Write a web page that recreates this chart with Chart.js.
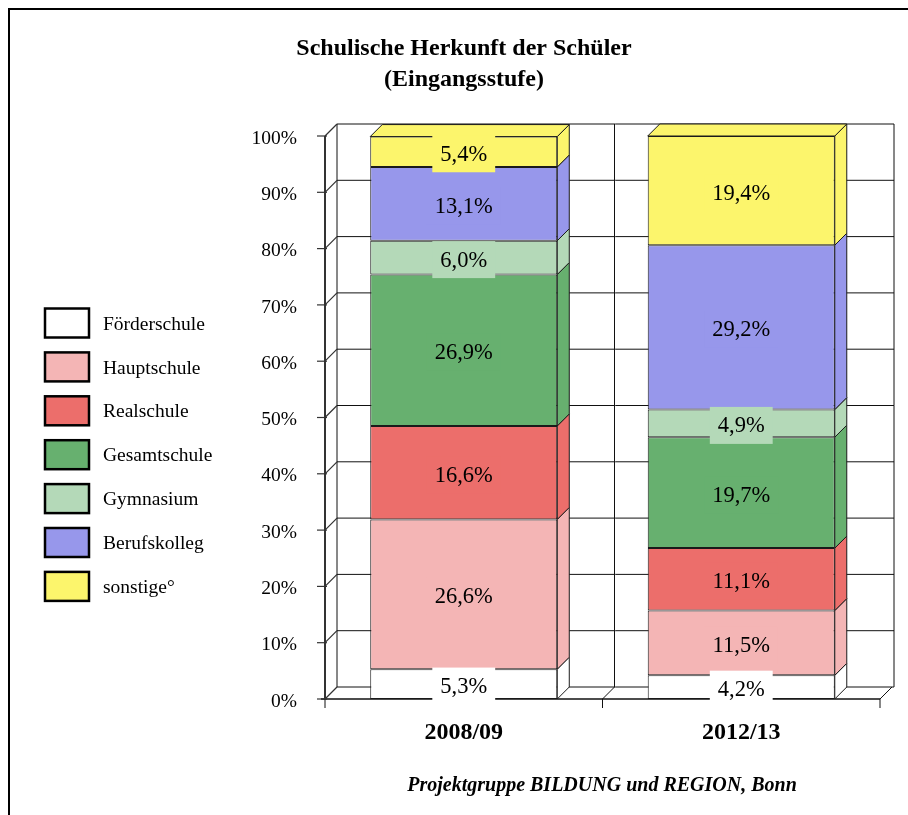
<!DOCTYPE html>
<html>
<head>
<meta charset="utf-8">
<script src="https://cdn.jsdelivr.net/npm/chart.js@4.4.1/dist/chart.umd.min.js"></script>
<style>
  html, body { margin: 0; padding: 0; background: #fff; overflow: hidden; }
  #frame { position: absolute; left: 8px; top: 8px; width: 950px; height: 900px; border: 2px solid #000; }
  #wrap { position: absolute; left: 0; top: 0; width: 908px; height: 815px; }
</style>
</head>
<body>
<div id="frame"></div>
<div id="wrap"><canvas id="chart" width="908" height="815"></canvas></div>
<script>
// Schuljahre
const years = ['2008/09', '2012/13'];

// Schulformen (Legende, von unten nach oben gestapelt)
const schools = ['Förderschule', 'Hauptschule', 'Realschule', 'Gesamtschule', 'Gymnasium', 'Berufskolleg', 'sonstige°'];
const schoolColors = ['#ffffff', '#f4b5b5', '#ec6e6b', '#67b06f', '#b4d9b8', '#9797eb', '#fcf56c'];

// Anteile in Prozent je Schuljahr
const foerderschule = [5.3, 4.2];
const hauptschule = [26.6, 11.5];
const realschule = [16.6, 11.1];
const gesamtschule = [26.9, 19.7];
const gymnasium = [6.0, 4.9];
const berufskolleg = [13.1, 29.2];
const sonstige = [5.4, 19.4];

const seriesValues = [foerderschule, hauptschule, realschule, gesamtschule, gymnasium, berufskolleg, sonstige];

const serif = "'Liberation Serif', 'Times New Roman', serif";
const DEPTH = 12;

const line = (ctx, x1, y1, x2, y2) => {
  ctx.beginPath();
  ctx.moveTo(x1, y1);
  ctx.lineTo(x2, y2);
  ctx.stroke();
};

const poly = (ctx, pts, fill) => {
  ctx.beginPath();
  ctx.moveTo(pts[0][0], pts[0][1]);
  for (let i = 1; i < pts.length; i++) ctx.lineTo(pts[i][0], pts[i][1]);
  ctx.closePath();
  ctx.fillStyle = fill;
  ctx.fill();
  ctx.stroke();
};

// Rueckwand, Boden und Achse in Pseudo-3D
const wallPlugin = {
  id: 'wall',
  beforeDatasetsDraw(chart) {
    const { ctx, chartArea } = chart;
    const yScale = chart.scales.y;
    const L = chartArea.left, R = chartArea.right;
    const mid = (L + R) / 2;
    const y0 = yScale.getPixelForValue(0);
    const y100 = yScale.getPixelForValue(100);
    ctx.save();
    ctx.strokeStyle = '#111';
    ctx.lineWidth = 1;
    // Gitterlinien auf der Rueckwand
    yScale.ticks.forEach(t => {
      const y = yScale.getPixelForValue(t.value);
      line(ctx, L + DEPTH, y - DEPTH, R + DEPTH + 2, y - DEPTH);
    });
    // senkrechte Wandlinien
    [L, mid, R + 2].forEach(x => line(ctx, x + DEPTH, y100 - DEPTH, x + DEPTH, y0 - DEPTH));
    // Boden
    [L, mid, R].forEach(x => {
      line(ctx, x, y0, x + DEPTH, y0 - DEPTH);
      line(ctx, x, y0, x, y0 + 9);
    });
    ctx.lineWidth = 1.5;
    line(ctx, L - 4, y0, R, y0);
    // y-Achse mit Teilstrichen
    ctx.strokeStyle = '#333';
    ctx.lineWidth = 2;
    line(ctx, L, y100, L, y0);
    ctx.lineWidth = 1.2;
    yScale.ticks.forEach(t => {
      const y = yScale.getPixelForValue(t.value);
      line(ctx, L - 8, y, L + 2, y);
      line(ctx, L, y, L + DEPTH, y - DEPTH);
    });
    ctx.restore();
  },
  afterDatasetsDraw(chart) {
    const { ctx } = chart;
    const last = chart.data.datasets.length - 1;
    ctx.save();
    ctx.strokeStyle = '#1a1a1a';
    ctx.lineWidth = 1;
    chart.data.datasets.forEach((ds, i) => {
      const meta = chart.getDatasetMeta(i);
      meta.data.forEach(el => {
        const { x, y, base, width } = el.getProps(['x', 'y', 'base', 'width'], true);
        const right = x + width / 2, left = x - width / 2;
        // Seitenflaeche
        poly(ctx, [[right, y], [right + DEPTH, y - DEPTH], [right + DEPTH, base - DEPTH], [right, base]], ds.backgroundColor);
        // Deckflaeche des obersten Segments
        if (i === last) {
          poly(ctx, [[left, y], [left + DEPTH, y - DEPTH], [right + DEPTH, y - DEPTH], [right, y]], ds.backgroundColor);
        }
      });
    });
    // Wertbeschriftungen mit Hintergrundkasten
    ctx.font = '22.5px ' + serif;
    ctx.textAlign = 'center';
    ctx.textBaseline = 'middle';
    chart.data.datasets.forEach((ds, i) => {
      const meta = chart.getDatasetMeta(i);
      meta.data.forEach((el, j) => {
        const { x, y, base } = el.getProps(['x', 'y', 'base'], true);
        const txt = ds.data[j].toFixed(1).replace('.', ',') + '%';
        const w = ctx.measureText(txt).width + 16;
        const cy = (y + base) / 2 + 2;
        ctx.fillStyle = ds.backgroundColor;
        ctx.fillRect(x - w / 2, cy - 18.5, w, 37);
        ctx.fillStyle = '#000';
        ctx.fillText(txt, x, cy + 1);
      });
    });
    ctx.restore();
  }
};

// Titel, Legende und Quellenangabe
const textPlugin = {
  id: 'texts',
  afterDraw(chart) {
    const { ctx } = chart;
    ctx.save();
    ctx.fillStyle = '#000';
    ctx.textAlign = 'center';
    ctx.textBaseline = 'middle';
    ctx.font = 'bold 24px ' + serif;
    ctx.fillText('Schulische Herkunft der Schüler', 464, 49);
    ctx.fillText('(Eingangsstufe)', 464, 80);
    ctx.font = 'italic bold 20px ' + serif;
    ctx.fillText('Projektgruppe BILDUNG und REGION, Bonn', 602, 786);

    ctx.textAlign = 'left';
    ctx.font = '19.5px ' + serif;
    ctx.lineWidth = 2.5;
    ctx.strokeStyle = '#000';
    chart.data.datasets.forEach((ds, i) => {
      const cy = 323 + i * 43.9;
      ctx.fillStyle = ds.backgroundColor;
      ctx.fillRect(45, cy - 14.5, 44, 29);
      ctx.strokeRect(45, cy - 14.5, 44, 29);
      ctx.fillStyle = '#000';
      ctx.fillText(ds.label, 103, cy + 1.5);
    });
    ctx.restore();
  }
};

new Chart(document.getElementById('chart'), {
  type: 'bar',
  data: {
    labels: years,
    datasets: schools.map((name, i) => ({
      label: name,
      data: seriesValues[i],
      backgroundColor: schoolColors[i],
      borderColor: '#1a1a1a',
      borderWidth: 1,
      borderSkipped: false,
      categoryPercentage: 1,
      barPercentage: 0.674
    }))
  },
  options: {
    responsive: false,
    devicePixelRatio: 1,
    animation: false,
    layout: {
      padding: { left: 0, right: 28, top: 136, bottom: 56 }
    },
    plugins: {
      legend: { display: false },
      title: { display: false },
      tooltip: { enabled: false }
    },
    scales: {
      x: {
        stacked: true,
        grid: { display: false, drawTicks: false },
        border: { display: false },
        ticks: {
          color: '#000',
          padding: 19,
          font: { family: serif, size: 24, weight: 'bold' }
        },
        afterFit: s => { s.height = 60; }
      },
      y: {
        stacked: true,
        min: 0,
        max: 100,
        grid: { display: false, drawTicks: false },
        border: { display: false },
        ticks: {
          stepSize: 10,
          color: '#000',
          padding: 28,
          labelOffset: 2.5,
          font: { family: serif, size: 19.5 },
          callback: value => value + '%'
        },
        afterFit: s => { s.width = 325; }
      }
    }
  },
  plugins: [wallPlugin, textPlugin]
});
</script>
</body>
</html>
